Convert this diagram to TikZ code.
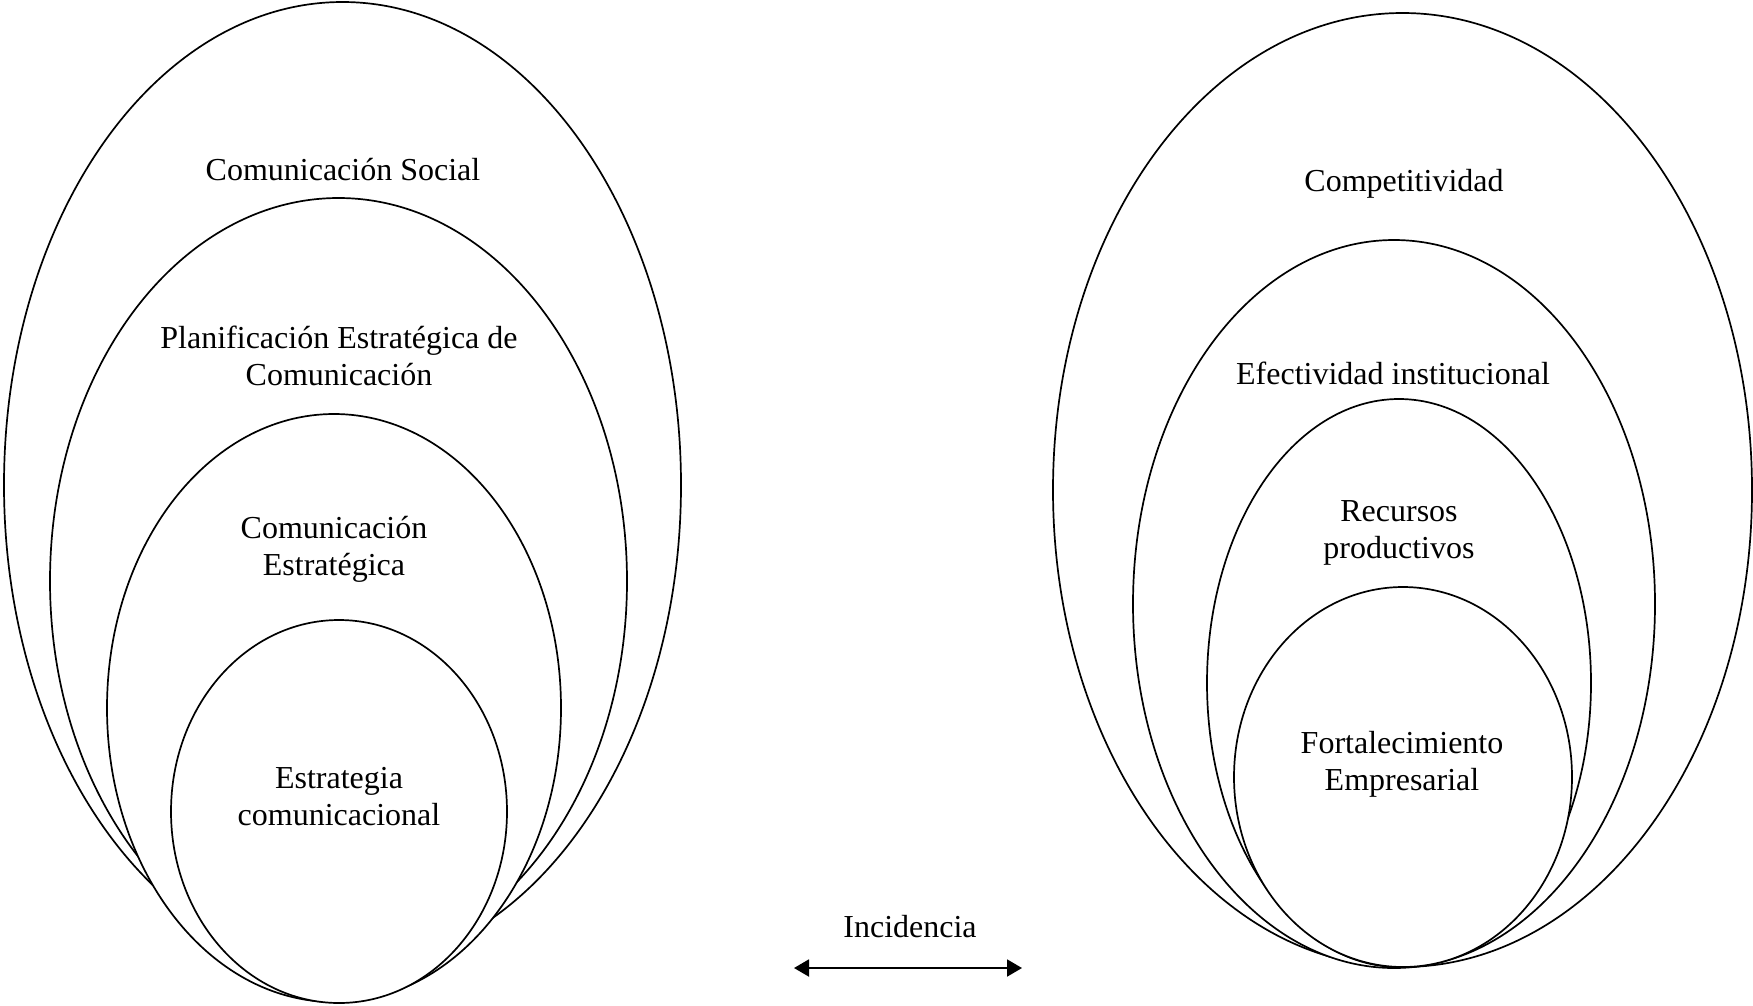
\documentclass[tikz,border=0pt]{standalone}
\usepackage{fontspec}
\setmainfont{Liberation Serif}
\usetikzlibrary{shapes.geometric,arrows.meta}
\begin{document}
\begin{tikzpicture}[x=1pt,y=-1pt,
  oval/.style={draw, fill=white, ellipse, line width=1.7pt, inner sep=0pt, outer sep=0pt},
  lbl/.style={align=center, font=\fontsize{32}{37}\selectfont, inner sep=0pt},
  >={Triangle[length=15pt,width=17pt]}]
\useasboundingbox (0,0) rectangle (1753,1005);
% left group
\node[oval, minimum width=677pt, minimum height=966pt] (L1) at (342.5,485) {};
\node[oval, minimum width=577pt, minimum height=766pt] (L2) at (338.5,581) {};
\node[oval, minimum width=454pt, minimum height=588pt] (L3) at (334,708) {};
\node[oval, minimum width=336pt, minimum height=383pt] (L4) at (339,811.5) {};
% right group
\node[oval, minimum width=699pt, minimum height=954pt] (R1) at (1402.5,490) {};
\node[oval, minimum width=522pt, minimum height=728pt] (R2) at (1394,604) {};
\node[oval, minimum width=384pt, minimum height=568pt] (R3) at (1399,683) {};
\node[oval, minimum width=338pt, minimum height=380pt] (R4) at (1403,777) {};
% labels
\node[lbl] (t1) at (343,170) {Comunicación Social};
\node[lbl] (t2) at (339,356) {Planificación Estratégica de\\Comunicación};
\node[lbl] (t3) at (334,549) {Comunicación\\Estratégica};
\node[lbl] (t4) at (339,797) {Estrategia\\comunicacional};
\node[lbl] (u1) at (1404,184) {Competitividad};
\node[lbl] (u2) at (1393,373) {Efectividad institucional};
\node[lbl] (u3) at (1399,533) {Recursos\\productivos};
\node[lbl] (u4) at (1402,764) {Fortalecimiento\\Empresarial};
\node[lbl] (inc) at (910,927) {Incidencia};
% arrow
\coordinate (aL) at (794,968);
\coordinate (aR) at (1022,968);
\draw[line width=2pt, <->] (aL) -- (aR);
\end{tikzpicture}
\end{document}
